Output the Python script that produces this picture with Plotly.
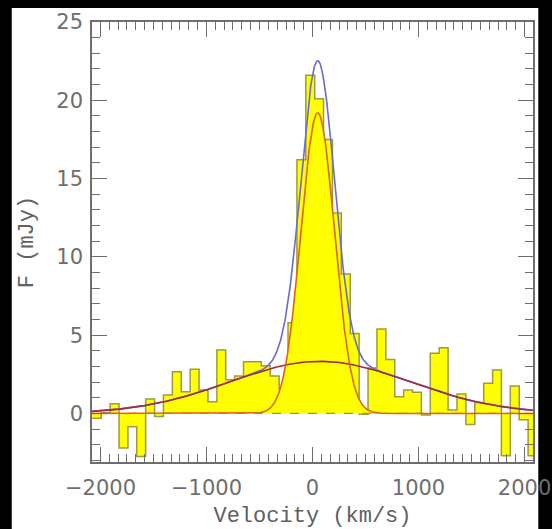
import numpy as np
import plotly.graph_objects as go

# ---- data ----
bin_centers = [-2035, -1951, -1867, -1783, -1699, -1616, -1532, -1448, -1364, -1280,
               -1196, -1112, -1028, -944, -860, -777, -693, -609, -525, -441,
               -357, -273, -189, -105, -21, 63, 146, 230, 314, 398,
               482, 566, 650, 734, 818, 902, 985, 1069, 1153, 1237,
               1321, 1405, 1489, 1573, 1657, 1741, 1824, 1908, 1992, 2076]
bin_width = 84
flux = [-0.3, 0.05, 0.62, -2.2, -0.85, -2.75, 0.93, -0.2, 1.18, 2.67,
        1.39, 2.82, 1.5, 0.75, 4.05, 2.15, 2.4, 3.3, 3.3, 3.05,
        2.4, 1.6, 5.8, 16.2, 21.6, 20.1, 17.5, 12.8, 8.9, 5.1,
        -0.05, 2.9, 5.4, 3.45, 1.07, 1.5, 1.35, -0.1, 3.85, 4.2,
        0.22, 1.25, -0.7, 0.7, 1.93, 2.78, -2.7, 1.75, -0.4, -2.7]

# Gaussian fit components (amplitude mJy, centre km/s, sigma km/s)
narrow_amp, narrow_cen, narrow_sig = 19.2, 49, 158
broad_amp, broad_cen, broad_sig = 3.33, 70, 850

x_ticks = [-2000, -1000, 0, 1000, 2000]
y_ticks = [0, 5, 10, 15, 20, 25]

# ---- build ----
edges = [c - bin_width / 2 for c in bin_centers] + [bin_centers[-1] + bin_width / 2]
step_y = flux + [flux[-1]]

v = np.linspace(-2080, 2080, 1201)
narrow = narrow_amp * np.exp(-0.5 * ((v - narrow_cen) / narrow_sig) ** 2)
broad = broad_amp * np.exp(-0.5 * ((v - broad_cen) / broad_sig) ** 2)
total = narrow + broad

gray = "#6e6e6e"
fig = go.Figure()
# histogram
fig.add_trace(go.Scatter(x=edges, y=step_y, mode="lines", line_shape="hv",
                         fill="tozeroy", fillcolor="#ffff00",
                         line=dict(color="#9c9c3c", width=1.5), hoverinfo="skip"))
# narrow component fill
fig.add_trace(go.Scatter(x=v, y=narrow, mode="lines", fill="tozeroy", fillcolor="#ffff00",
                         line=dict(color="rgba(0,0,0,0)", width=0), hoverinfo="skip"))
# dashed zero line
fig.add_trace(go.Scatter(x=[-2080, 2080], y=[0, 0], mode="lines",
                         line=dict(color="#c8862a", width=1.2, dash="dash"), hoverinfo="skip"))
# total
fig.add_trace(go.Scatter(x=v, y=total, mode="lines", line=dict(color="#6a6ad6", width=1.6)))
# broad
fig.add_trace(go.Scatter(x=v, y=broad, mode="lines", line=dict(color="#a52a3a", width=1.6)))
# narrow outline
fig.add_trace(go.Scatter(x=v, y=narrow, mode="lines", line=dict(color="#e0641e", width=1.6)))

fig.add_shape(type="rect", xref="paper", yref="paper",
              x0=-0.182, x1=1.012, y0=-0.16, y1=1.032,
              fillcolor="white", line=dict(width=0), layer="below")

fig.update_layout(
    width=552, height=529,
    margin=dict(l=92, r=19, t=22, b=67, autoexpand=False),
    paper_bgcolor="black", plot_bgcolor="white",
    showlegend=False,
)
axis_common = dict(
    ticks="inside", tickcolor=gray, tickwidth=1.3,
    showline=True, linecolor=gray, linewidth=1.5, mirror="allticks",
    showgrid=False, zeroline=False, automargin=False,
    tickfont=dict(family="DejaVu Sans", size=21, color=gray),
)
fig.update_xaxes(range=[-2080, 2080], tickvals=x_ticks, ticklen=15,
                 minor=dict(dtick=1000 / 12, tick0=0, ticks="inside", ticklen=8,
                            tickcolor=gray, tickwidth=1.2, showgrid=False),
                 ticklabelstandoff=6,
                 title=dict(text="Velocity (km/s)", standoff=8,
                            font=dict(family="Liberation Mono", size=22, color="#606060")),
                 **axis_common)
fig.update_yaxes(range=[-3.1, 25], tickvals=y_ticks, ticklen=15,
                 minor=dict(dtick=1, tick0=0, ticks="inside", ticklen=8,
                            tickcolor=gray, tickwidth=1.2, showgrid=False),
                 ticklabelstandoff=3,
                 title=dict(text="F (mJy)", standoff=17,
                            font=dict(family="Liberation Mono", size=22, color="#606060")),
                 **axis_common)

fig.write_html("out.html")
